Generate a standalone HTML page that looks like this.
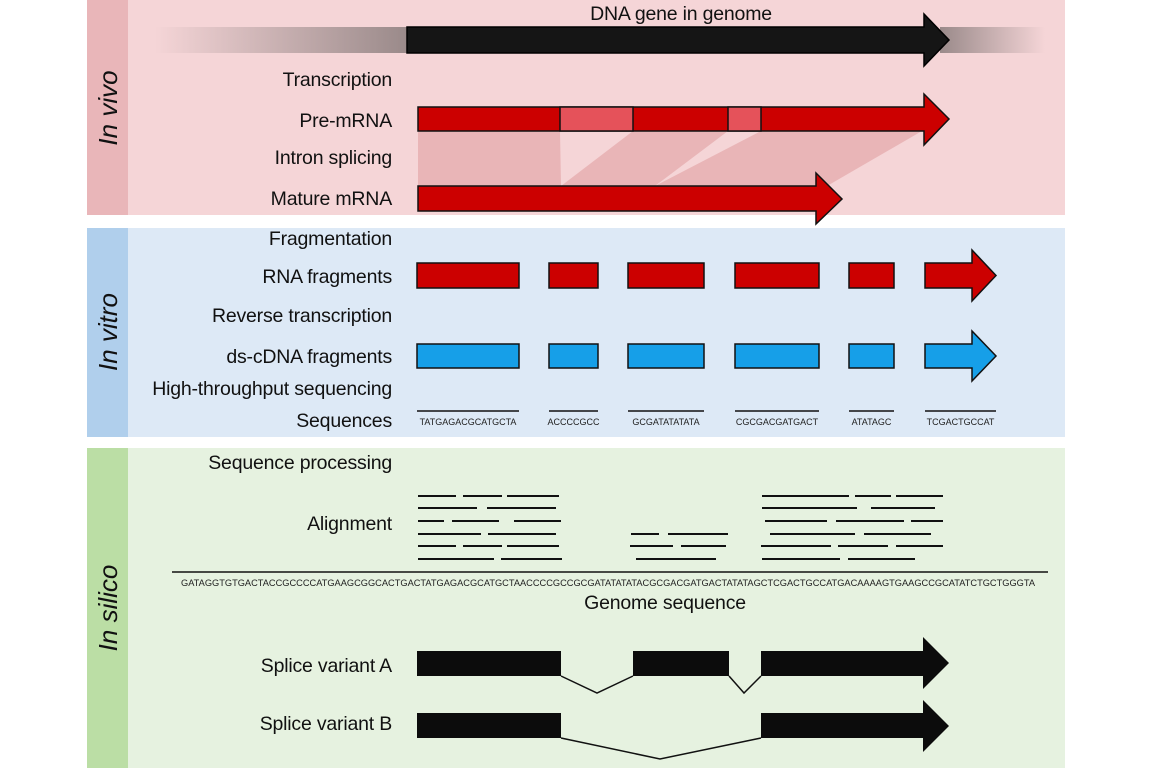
<!DOCTYPE html>
<html><head><meta charset="utf-8"><style>
html,body{margin:0;padding:0;background:#fff;}
svg{display:block;font-family:"Liberation Sans",sans-serif;}
.lbl{font-size:19.5px;fill:#111;text-anchor:end;letter-spacing:-0.2px;}
</style></head><body>
<svg width="1152" height="768" viewBox="0 0 1152 768">
<defs>
<linearGradient id="gl" x1="0" x2="1"><stop offset="0" stop-color="#9a8a8a" stop-opacity="0"/><stop offset="1" stop-color="#9a8a8a"/></linearGradient>
<linearGradient id="gr" x1="0" x2="1"><stop offset="0" stop-color="#9a8a8a"/><stop offset="1" stop-color="#9a8a8a" stop-opacity="0"/></linearGradient>
</defs>
<g>
<rect x="87" y="0" width="978" height="215" fill="#f5d5d7"/>
<rect x="87" y="0" width="41" height="215" fill="#e9b6b9"/>
<text transform="translate(117,108) rotate(-90)" text-anchor="middle" font-size="26" font-style="italic" fill="#111">In vivo</text>
</g>
<g>
<rect x="87" y="228" width="978" height="209" fill="#dde9f6"/>
<rect x="87" y="228" width="41" height="209" fill="#b0cfec"/>
<text transform="translate(117,332) rotate(-90)" text-anchor="middle" font-size="26" font-style="italic" fill="#111">In vitro</text>
</g>
<g>
<rect x="87" y="448" width="978" height="320" fill="#e6f2e0"/>
<rect x="87" y="448" width="41" height="320" fill="#bbdea5"/>
<text transform="translate(117,608) rotate(-90)" text-anchor="middle" font-size="26" font-style="italic" fill="#111">In silico</text>
</g>

<text class="lbl" x="392" y="86">Transcription</text>
<text class="lbl" x="392" y="127">Pre-mRNA</text>
<text class="lbl" x="392" y="164">Intron splicing</text>
<text class="lbl" x="392" y="205">Mature mRNA</text>
<text class="lbl" x="392" y="245">Fragmentation</text>
<text class="lbl" x="392" y="283">RNA fragments</text>
<text class="lbl" x="392" y="322">Reverse transcription</text>
<text class="lbl" x="392" y="363">ds-cDNA fragments</text>
<text class="lbl" x="392" y="395">High-throughput sequencing</text>
<text class="lbl" x="392" y="427">Sequences</text>
<text class="lbl" x="392" y="469">Sequence processing</text>
<text class="lbl" x="392" y="530">Alignment</text>
<text class="lbl" x="392" y="672">Splice variant A</text>
<text class="lbl" x="392" y="730">Splice variant B</text>

<text x="681" y="20" text-anchor="middle" font-size="19.5" letter-spacing="-0.2" fill="#111">DNA gene in genome</text>
<rect x="155" y="27" width="252" height="26" fill="url(#gl)"/>
<rect x="940" y="27" width="105" height="26" fill="url(#gr)"/>
<polygon points="407,27 924,27 924,14 949,40 924,66 924,53 407,53" fill="#151515" stroke="#000" stroke-width="1.5"/>

<g fill="#e9b5b7">
<polygon points="418,131 560,131 561,186 418,186"/>
<polygon points="633,131 728,131 655,186 561,186"/>
<polygon points="761,131 922,131 827,186 655,186"/>
</g>
<g stroke="#111" stroke-width="1.5">
<polygon points="418,107 924,107 924,94 949,119 924,145 924,131 418,131" fill="#cc0000"/>
<rect x="560" y="107" width="73" height="24" fill="#e5525a"/>
<rect x="728" y="107" width="33" height="24" fill="#e5525a"/>
</g>
<polygon points="418,186 816,186 816,173 842,199 816,224 816,211 418,211" fill="#cc0000" stroke="#111" stroke-width="1.5"/>

<g id="frag"></g>
<g id="align"></g>

<line x1="172" y1="572" x2="1048" y2="572" stroke="#111" stroke-width="1.5"/>
<text x="181" y="586" font-size="8.8" fill="#222" textLength="854" lengthAdjust="spacingAndGlyphs">GATAGGTGTGACTACCGCCCCATGAAGCGGCACTGACTATGAGACGCATGCTAACCCCGCCGCGATATATATACGCGACGATGACTATATAGCTCGACTGCCATGACAAAAGTGAAGCCGCATATCTGCTGGGTA</text>
<text x="665" y="609" text-anchor="middle" font-size="19.5" letter-spacing="-0.2" fill="#111">Genome sequence</text>

<g>
<rect x="417" y="651" width="144" height="25" fill="#0c0c0c"/>
<rect x="633" y="651" width="96" height="25" fill="#0c0c0c"/>
<polygon points="761,651 923,651 923,637 949,663 923,689 923,676 761,676" fill="#0c0c0c"/>
<polyline points="561,676 597,693 633,676" fill="none" stroke="#111" stroke-width="1.5"/>
<polyline points="729,676 744,693 761,676" fill="none" stroke="#111" stroke-width="1.5"/>
</g>
<g>
<rect x="417" y="713" width="144" height="25" fill="#0c0c0c"/>
<polygon points="761,713 923,713 923,700 949,726 923,752 923,738 761,738" fill="#0c0c0c"/>
<polyline points="561,738 660,759 761,738" fill="none" stroke="#111" stroke-width="1.5"/>
</g>
</svg>
<script>
const fragStarts=[417,549,628,735,849,925];
const fragEnds=[519,598,704,819,894,996];
const fragSeqs=["TATGAGACGCATGCTA","ACCCCGCC","GCGATATATATA","CGCGACGATGACT","ATATAGC","TCGACTGCCAT"];
const readRows=[496,508,521,534,546,559];
const readStarts=[[418,463,507,762,855,896],[418,487,762,871],[418,452,514,765,836,911],[418,488,631,668,770,864],[418,463,507,630,681,761,838,896],[418,501,636,762,848]];
const readEnds=[[456,502,559,849,891,943],[477,556,857,935],[444,499,561,827,904,943],[481,556,659,728,855,931],[456,502,559,673,726,831,888,943],[494,562,716,840,915]];
const NS='http://www.w3.org/2000/svg';
const fg=document.getElementById('frag');
function mk(t,a){const e=document.createElementNS(NS,t);for(const k in a)e.setAttribute(k,a[k]);return e;}
fragStarts.forEach((s,i)=>{
  const e=fragEnds[i], last=i===fragStarts.length-1;
  [['#cc0000',263,288,'rna'],['#169fe8',344,368,'cdna']].forEach(([c,y0,y1,n])=>{
    let el;
    if(last){const hb=e-24,m=(y0+y1)/2;el=mk('polygon',{points:`${s},${y0} ${hb},${y0} ${hb},${y0-13} ${e},${m} ${hb},${y1+13} ${hb},${y1} ${s},${y1}`});}
    else el=mk('rect',{x:s,y:y0,width:e-s,height:y1-y0});
    el.setAttribute('fill',c);el.setAttribute('stroke','#111');el.setAttribute('stroke-width','1.5');
    
    
    fg.appendChild(el);
  });
  const ln=mk('line',{x1:s,y1:411,x2:e,y2:411,stroke:'#111','stroke-width':1.5});
  
  
  fg.appendChild(ln);
  const tx=mk('text',{x:(s+e)/2,y:425,'text-anchor':'middle','font-size':9,fill:'#222'});
  tx.textContent=fragSeqs[i];
  
  
  fg.appendChild(tx);
});
const ag=document.getElementById('align');
readRows.forEach((y,r)=>{
  readStarts[r].forEach((s,j)=>{
    const l=mk('line',{x1:s,y1:y,x2:readEnds[r][j],y2:y,stroke:'#111','stroke-width':2});
    
    
    ag.appendChild(l);
  });
});
</script>
</body></html>
